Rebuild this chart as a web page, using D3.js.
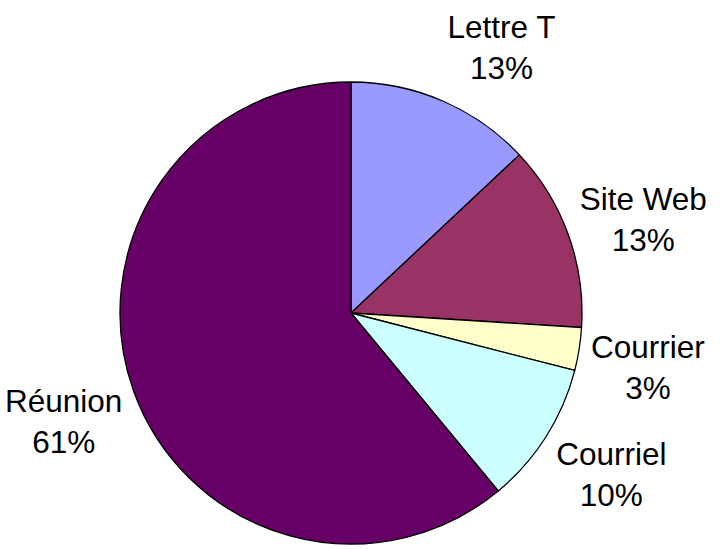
<!DOCTYPE html>
<html>
<head>
<meta charset="utf-8">
<script src="https://cdn.jsdelivr.net/npm/d3@7"></script>
<style>
  body { margin: 0; background: #fff; }
  text { font-family: "Liberation Sans", Arial, sans-serif; fill: #000; }
</style>
</head>
<body>
<div id="pie-chart"></div>
<script>
// data
var categories = ["Lettre T", "Site Web", "Courrier", "Courriel", "Réunion"];
var values = [13, 13, 3, 10, 61];
var colors = ["#9999FF", "#993366", "#FFFFCC", "#CCFFFF", "#660066"];

var width = 723, height = 549;
var cx = 351, cy = 313, radius = 231;

var svg = d3.select("#pie-chart").append("svg")
    .attr("width", width)
    .attr("height", height);

var g = svg.append("g")
    .attr("transform", "translate(" + cx + "," + cy + ")");

var total = d3.sum(values);
var pie = d3.pie().sort(null).value(function(d) { return d.value; });
var arc = d3.arc().innerRadius(0).outerRadius(radius);

var rows = categories.map(function(c, i) {
  return { name: c, value: values[i], color: colors[i] };
});
var arcs = pie(rows);

g.selectAll(".slice").data(arcs)
  .enter().append("path")
    .attr("class", "slice")
    .attr("d", arc)
    .style("fill", function(d) { return d.data.color; })
    .style("stroke", "#000")
    .style("stroke-width", 1.3)
    .style("stroke-linejoin", "round");

// labels outside the pie, box corner put near the slice middle
var gap = 12, lineH = 41, fontSize = 31.5;
var label = g.selectAll(".label").data(arcs)
  .enter().append("text")
    .attr("class", "label")
    .attr("text-anchor", "middle")
    .style("font-size", fontSize + "px");

label.append("tspan").attr("class", "l1")
    .text(function(d) { return d.data.name; });
label.append("tspan").attr("class", "l2")
    .text(function(d) { return Math.round(d.data.value / total * 100) + "%"; });

label.each(function(d) {
  var t = d3.select(this);
  var a = (d.startAngle + d.endAngle) / 2;
  var s = Math.sin(a), c = Math.cos(a);
  var ax = (radius + gap) * s, ay = -(radius + gap) * c;
  var w = Math.max(t.select(".l1").node().getComputedTextLength(),
                   t.select(".l2").node().getComputedTextLength());
  var hw = w / 2, hh = 42;
  var fy = Math.max(-1, Math.min(1, 1.3 * (0.34 - c)));
  var x = ax + hw * Math.sign(s), y = ay + hh * fy;
  t.select(".l1").attr("x", x).attr("y", y - lineH / 2);
  t.select(".l2").attr("x", x).attr("y", y + lineH / 2);
});
</script>
</body>
</html>
